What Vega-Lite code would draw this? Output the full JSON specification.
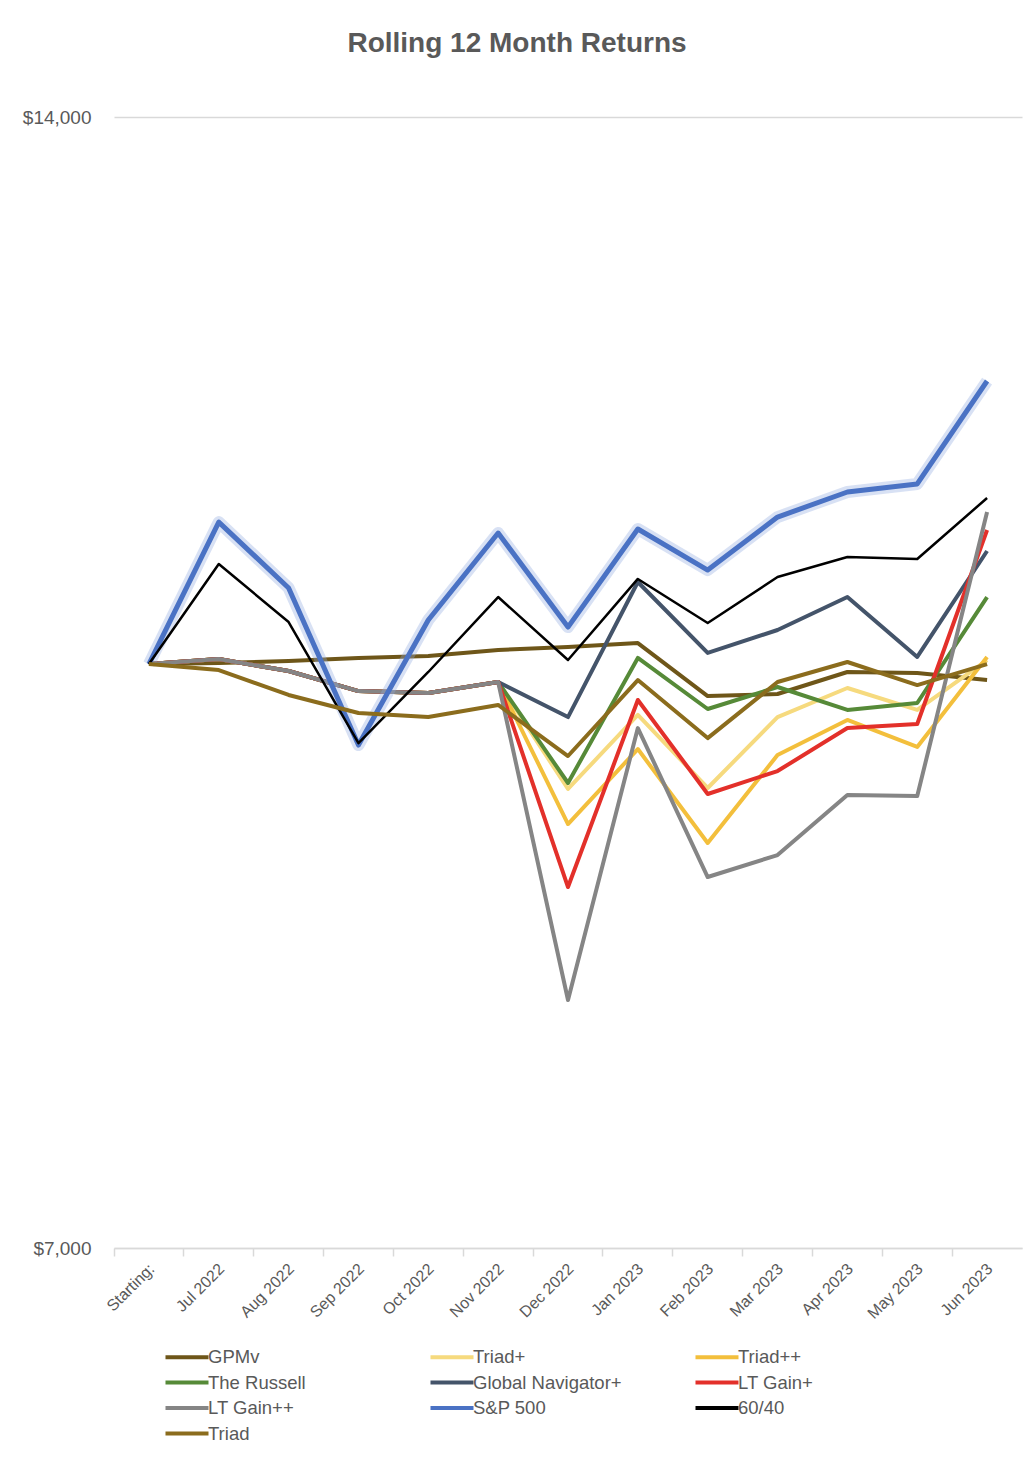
{
 "$schema": "https://vega.github.io/schema/vega-lite/v6.json",
 "width": 908, "height": 1131,
 "autosize": {"type": "none"},
 "padding": {"left": 114, "top": 117, "right": 6, "bottom": 232},
 "background": "white",
 "title": {"text": "Rolling 12 Month Returns", "fontSize": 28, "font": "Liberation Sans", "fontWeight": "bold", "color": "#595959", "anchor": "middle", "dx": -51, "offset": 50},
 "config": {"view": {"stroke": null}},
 "data": {"values": [
  {"month":"Starting:","series":"GPMv","value":10614},{"month":"Jul 2022","series":"GPMv","value":10621},{"month":"Aug 2022","series":"GPMv","value":10633},{"month":"Sep 2022","series":"GPMv","value":10652},{"month":"Oct 2022","series":"GPMv","value":10664},{"month":"Nov 2022","series":"GPMv","value":10701},{"month":"Dec 2022","series":"GPMv","value":10720},{"month":"Jan 2023","series":"GPMv","value":10744},{"month":"Feb 2023","series":"GPMv","value":10416},{"month":"Mar 2023","series":"GPMv","value":10429},{"month":"Apr 2023","series":"GPMv","value":10565},{"month":"May 2023","series":"GPMv","value":10559},{"month":"Jun 2023","series":"GPMv","value":10515},
  {"month":"Starting:","series":"Triad+","value":10614},{"month":"Jul 2022","series":"Triad+","value":10645},{"month":"Aug 2022","series":"Triad+","value":10571},{"month":"Sep 2022","series":"Triad+","value":10447},{"month":"Oct 2022","series":"Triad+","value":10435},{"month":"Nov 2022","series":"Triad+","value":10503},{"month":"Dec 2022","series":"Triad+","value":9841},{"month":"Jan 2023","series":"Triad+","value":10299},{"month":"Feb 2023","series":"Triad+","value":9847},{"month":"Mar 2023","series":"Triad+","value":10286},{"month":"Apr 2023","series":"Triad+","value":10466},{"month":"May 2023","series":"Triad+","value":10330},{"month":"Jun 2023","series":"Triad+","value":10639},
  {"month":"Starting:","series":"Triad++","value":10614},{"month":"Jul 2022","series":"Triad++","value":10645},{"month":"Aug 2022","series":"Triad++","value":10571},{"month":"Sep 2022","series":"Triad++","value":10447},{"month":"Oct 2022","series":"Triad++","value":10435},{"month":"Nov 2022","series":"Triad++","value":10503},{"month":"Dec 2022","series":"Triad++","value":9624},{"month":"Jan 2023","series":"Triad++","value":10088},{"month":"Feb 2023","series":"Triad++","value":9507},{"month":"Mar 2023","series":"Triad++","value":10051},{"month":"Apr 2023","series":"Triad++","value":10268},{"month":"May 2023","series":"Triad++","value":10101},{"month":"Jun 2023","series":"Triad++","value":10658},
  {"month":"Starting:","series":"The Russell","value":10614},{"month":"Jul 2022","series":"The Russell","value":10645},{"month":"Aug 2022","series":"The Russell","value":10571},{"month":"Sep 2022","series":"The Russell","value":10447},{"month":"Oct 2022","series":"The Russell","value":10435},{"month":"Nov 2022","series":"The Russell","value":10503},{"month":"Dec 2022","series":"The Russell","value":9878},{"month":"Jan 2023","series":"The Russell","value":10652},{"month":"Feb 2023","series":"The Russell","value":10336},{"month":"Mar 2023","series":"The Russell","value":10472},{"month":"Apr 2023","series":"The Russell","value":10330},{"month":"May 2023","series":"The Russell","value":10373},{"month":"Jun 2023","series":"The Russell","value":11029},
  {"month":"Starting:","series":"Global Navigator+","value":10614},{"month":"Jul 2022","series":"Global Navigator+","value":10645},{"month":"Aug 2022","series":"Global Navigator+","value":10571},{"month":"Sep 2022","series":"Global Navigator+","value":10447},{"month":"Oct 2022","series":"Global Navigator+","value":10435},{"month":"Nov 2022","series":"Global Navigator+","value":10503},{"month":"Dec 2022","series":"Global Navigator+","value":10286},{"month":"Jan 2023","series":"Global Navigator+","value":11122},{"month":"Feb 2023","series":"Global Navigator+","value":10683},{"month":"Mar 2023","series":"Global Navigator+","value":10825},{"month":"Apr 2023","series":"Global Navigator+","value":11029},{"month":"May 2023","series":"Global Navigator+","value":10658},{"month":"Jun 2023","series":"Global Navigator+","value":11314},
  {"month":"Starting:","series":"LT Gain+","value":10614},{"month":"Jul 2022","series":"LT Gain+","value":10645},{"month":"Aug 2022","series":"LT Gain+","value":10571},{"month":"Sep 2022","series":"LT Gain+","value":10447},{"month":"Oct 2022","series":"LT Gain+","value":10435},{"month":"Nov 2022","series":"LT Gain+","value":10503},{"month":"Dec 2022","series":"LT Gain+","value":9234},{"month":"Jan 2023","series":"LT Gain+","value":10392},{"month":"Feb 2023","series":"LT Gain+","value":9810},{"month":"Mar 2023","series":"LT Gain+","value":9952},{"month":"Apr 2023","series":"LT Gain+","value":10218},{"month":"May 2023","series":"LT Gain+","value":10243},{"month":"Jun 2023","series":"LT Gain+","value":11444},
  {"month":"Starting:","series":"LT Gain++","value":10614},{"month":"Jul 2022","series":"LT Gain++","value":10645},{"month":"Aug 2022","series":"LT Gain++","value":10571},{"month":"Sep 2022","series":"LT Gain++","value":10447},{"month":"Oct 2022","series":"LT Gain++","value":10435},{"month":"Nov 2022","series":"LT Gain++","value":10503},{"month":"Dec 2022","series":"LT Gain++","value":8535},{"month":"Jan 2023","series":"LT Gain++","value":10218},{"month":"Feb 2023","series":"LT Gain++","value":9296},{"month":"Mar 2023","series":"LT Gain++","value":9432},{"month":"Apr 2023","series":"LT Gain++","value":9804},{"month":"May 2023","series":"LT Gain++","value":9797},{"month":"Jun 2023","series":"LT Gain++","value":11555},
  {"month":"Starting:","series":"S&P 500","value":10614},{"month":"Jul 2022","series":"S&P 500","value":11493},{"month":"Aug 2022","series":"S&P 500","value":11085},{"month":"Sep 2022","series":"S&P 500","value":10113},{"month":"Oct 2022","series":"S&P 500","value":10887},{"month":"Nov 2022","series":"S&P 500","value":11425},{"month":"Dec 2022","series":"S&P 500","value":10843},{"month":"Jan 2023","series":"S&P 500","value":11450},{"month":"Feb 2023","series":"S&P 500","value":11196},{"month":"Mar 2023","series":"S&P 500","value":11524},{"month":"Apr 2023","series":"S&P 500","value":11679},{"month":"May 2023","series":"S&P 500","value":11729},{"month":"Jun 2023","series":"S&P 500","value":12366},
  {"month":"Starting:","series":"60/40","value":10614},{"month":"Jul 2022","series":"60/40","value":11233},{"month":"Aug 2022","series":"60/40","value":10874},{"month":"Sep 2022","series":"60/40","value":10125},{"month":"Oct 2022","series":"60/40","value":10565},{"month":"Nov 2022","series":"60/40","value":11029},{"month":"Dec 2022","series":"60/40","value":10639},{"month":"Jan 2023","series":"60/40","value":11141},{"month":"Feb 2023","series":"60/40","value":10868},{"month":"Mar 2023","series":"60/40","value":11153},{"month":"Apr 2023","series":"60/40","value":11277},{"month":"May 2023","series":"60/40","value":11264},{"month":"Jun 2023","series":"60/40","value":11642},
  {"month":"Starting:","series":"Triad","value":10614},{"month":"Jul 2022","series":"Triad","value":10577},{"month":"Aug 2022","series":"Triad","value":10423},{"month":"Sep 2022","series":"Triad","value":10311},{"month":"Oct 2022","series":"Triad","value":10286},{"month":"Nov 2022","series":"Triad","value":10361},{"month":"Dec 2022","series":"Triad","value":10045},{"month":"Jan 2023","series":"Triad","value":10515},{"month":"Feb 2023","series":"Triad","value":10156},{"month":"Mar 2023","series":"Triad","value":10503},{"month":"Apr 2023","series":"Triad","value":10627},{"month":"May 2023","series":"Triad","value":10484},{"month":"Jun 2023","series":"Triad","value":10614}
 ]},
 "encoding": {
  "x": {"field": "month", "type": "nominal",
   "sort": ["Starting:","Jul 2022","Aug 2022","Sep 2022","Oct 2022","Nov 2022","Dec 2022","Jan 2023","Feb 2023","Mar 2023","Apr 2023","May 2023","Jun 2023"],
   "scale": {"type": "band", "paddingInner": 0, "paddingOuter": 0},
   "axis": {"title": null, "bandPosition": 0, "labelOffset": 3, "labelAngle": -45, "labelAlign": "right", "labelBaseline": "middle", "labelPadding": 10, "labelFontSize": 16, "labelFont": "Liberation Sans", "labelColor": "#595959", "tickColor": "#d9d9d9", "tickSize": 8, "tickWidth": 1.5, "domainColor": "#d9d9d9", "domainWidth": 1.5, "grid": false}},
  "y": {"field": "value", "type": "quantitative",
   "scale": {"domain": [7000, 14000], "zero": false, "nice": false},
   "axis": {"title": null, "values": [7000, 14000], "format": "$,.0f", "domain": false, "ticks": false, "labelPadding": 23, "labelFontSize": 19, "labelFont": "Liberation Sans", "labelColor": "#595959", "grid": true, "gridColor": "#d9d9d9", "gridWidth": 1.5}},
  "color": {"field": "series", "type": "nominal",
   "scale": {"domain": ["GPMv","Triad+","Triad++","The Russell","Global Navigator+","LT Gain+","LT Gain++","S&P 500","60/40","Triad"],
             "range": ["#6e5619","#f6da7e","#f3bf3c","#568a38","#44546a","#e3302a","#858585","#4a72c4","#000000","#8b6c1d"]},
   "legend": {"title": null, "orient": "none", "legendX": 62, "legendY": 1229, "direction": "horizontal", "columns": 3, "gridAlign": "all", "columnPadding": 65, "rowPadding": 4.5, "symbolType": "M-2.5,0H2.5", "symbolSize": 296, "symbolStrokeWidth": 4, "labelFontSize": 18.5, "labelFont": "Liberation Sans", "labelColor": "#595959", "labelOffset": 10}}
 },
 "layer": [
  {"transform": [{"filter": "datum.series === 'GPMv'"}], "mark": {"type": "line", "strokeJoin": "round", "strokeWidth": 4}},
  {"transform": [{"filter": "datum.series === 'Triad+'"}], "mark": {"type": "line", "strokeJoin": "round", "strokeWidth": 4}},
  {"transform": [{"filter": "datum.series === 'Triad++'"}], "mark": {"type": "line", "strokeJoin": "round", "strokeWidth": 4}},
  {"transform": [{"filter": "datum.series === 'The Russell'"}], "mark": {"type": "line", "strokeJoin": "round", "strokeWidth": 4}},
  {"transform": [{"filter": "datum.series === 'Global Navigator+'"}], "mark": {"type": "line", "strokeJoin": "round", "strokeWidth": 4}},
  {"transform": [{"filter": "datum.series === 'LT Gain+'"}], "mark": {"type": "line", "strokeJoin": "round", "strokeWidth": 4}},
  {"transform": [{"filter": "datum.series === 'LT Gain++'"}], "mark": {"type": "line", "strokeJoin": "round", "strokeWidth": 4}},
  {"transform": [{"filter": "datum.series === 'S&P 500'"}], "mark": {"type": "line", "strokeJoin": "round", "strokeWidth": 12, "opacity": 0.35, "color": "#8eaadf"}, "encoding": {"color": {"value": "#8eaadf"}}},
  {"transform": [{"filter": "datum.series === 'S&P 500'"}], "mark": {"type": "line", "strokeJoin": "round", "strokeWidth": 5}},
  {"transform": [{"filter": "datum.series === '60/40'"}], "mark": {"type": "line", "strokeJoin": "round", "strokeWidth": 2.5}},
  {"transform": [{"filter": "datum.series === 'Triad'"}], "mark": {"type": "line", "strokeJoin": "round", "strokeWidth": 4}}
 ]
}
